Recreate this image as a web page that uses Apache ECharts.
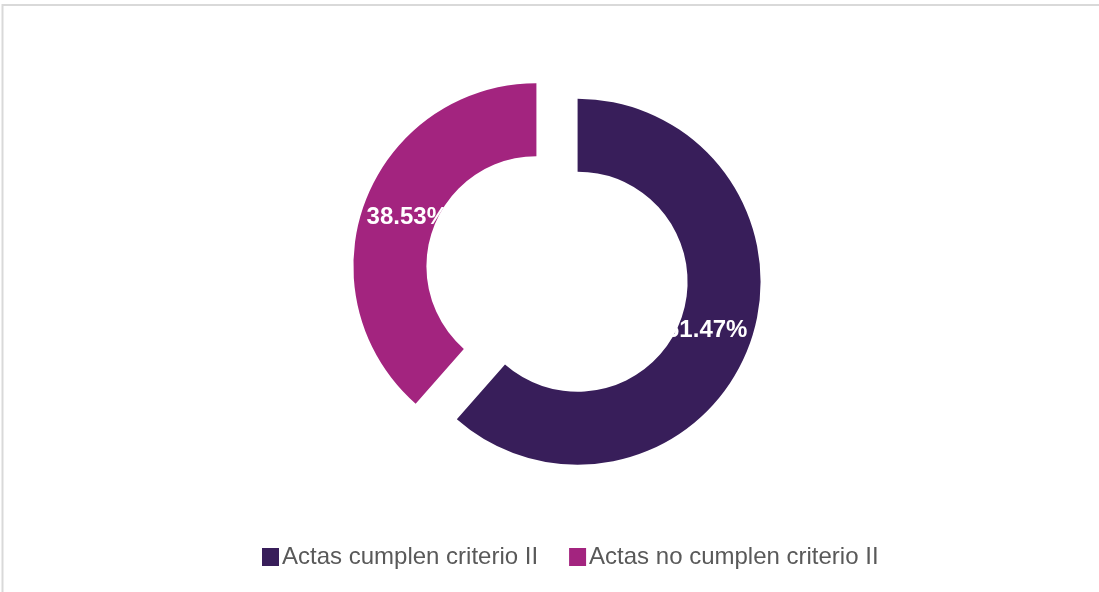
<!DOCTYPE html>
<html>
<head>
<meta charset="utf-8">
<script src="https://cdn.jsdelivr.net/npm/echarts@6/dist/echarts.min.js"></script>
<style>
  html, body { margin: 0; padding: 0; background: #fff; }
  #chart { width: 1099px; height: 592px; }
</style>
</head>
<body>
<div id="chart"></div>
<script>
const categories = ['Actas cumplen criterio II', 'Actas no cumplen criterio II'];
const values = [61.47, 38.53];
const colors = ['#381e5a', '#a3247f'];

const chart = echarts.init(document.getElementById('chart'));

// angulo medio de cada porcion (grados, desde arriba en sentido horario)
const total = values.reduce((a, b) => a + b, 0);
let acc = 0;
const midAngles = values.map(v => {
  const m = (acc + v / 2) / total * 360;
  acc += v;
  return m;
});
const labelInset = 11.5;

chart.setOption({
  animation: false,
  legend: {
    left: 257,
    top: 540,
    itemWidth: 17,
    itemHeight: 18,
    itemGap: 31,
    icon: 'rect',
    textStyle: {
      color: '#595959',
      fontSize: 24,
      fontFamily: 'Liberation Sans, Arial, sans-serif',
      padding: [0, 0, 0, -2]
    },
    data: categories
  },
  graphic: [{
    type: 'rect',
    silent: true,
    shape: { x: 2.5, y: 5, width: 1200, height: 700 },
    style: { fill: 'none', stroke: '#d9d9d9', lineWidth: 2 }
  }],
  series: [{
    type: 'pie',
    center: [557, 274],
    radius: [110, 183],
    startAngle: 90,
    clockwise: true,
    selectedMode: 'multiple',
    selectedOffset: 22,
    avoidLabelOverlap: false,
    label: {
      show: true,
      position: 'inside',
      color: '#fff',
      fontSize: 24,
      fontWeight: 'bold',
      fontFamily: 'Liberation Sans, Arial, sans-serif',
      formatter: p => p.value.toFixed(2) + '%'
    },
    labelLine: { show: false },
    labelLayout: p => {
      const a = midAngles[p.dataIndex] * Math.PI / 180;
      return { dx: -labelInset * Math.sin(a), dy: labelInset * Math.cos(a) };
    },
    emphasis: { disabled: true },
    data: categories.map((name, i) => ({
      name: name,
      value: values[i],
      selected: true,
      itemStyle: { color: colors[i] },
      select: { itemStyle: { color: colors[i], borderWidth: 0 } }
    }))
  }]
});
</script>
</body>
</html>
